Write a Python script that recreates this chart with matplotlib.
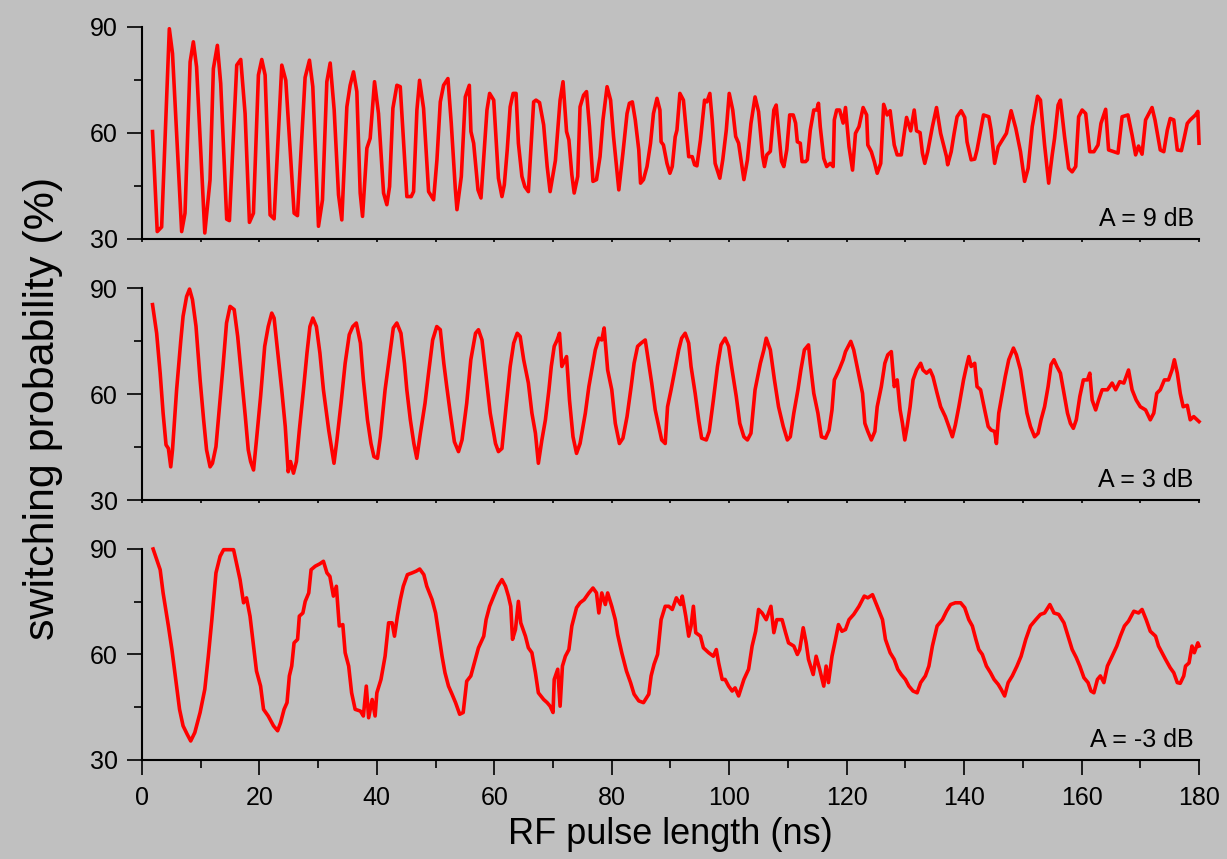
import matplotlib.pyplot as plt
from matplotlib.ticker import MultipleLocator

plt.rcParams['font.family'] = ['Liberation Sans', 'DejaVu Sans']

# pulse length (ns) and switching probability (%) for each attenuation
t_9db = [1.8, 2.6, 3.35, 4.66, 5.2, 6.76, 7.33, 8.2, 8.75, 9.3, 10.7, 11.59, 12.16, 12.84, 13.41,
         14.43, 14.89, 16.14, 16.82, 17.56, 18.3, 18.98, 19.83, 20.4, 20.97, 21.82, 22.5, 23.81,
         24.49, 25.91, 26.48, 27.78, 28.52, 29.09, 30.06, 30.74, 31.48, 32.05, 32.73, 33.47, 34.03,
         34.89, 35.45, 36.02, 36.59, 37.16, 37.56, 38.3, 38.86, 39.6, 40.28, 41.14, 41.7, 42.16,
         42.73, 43.41, 43.98, 45.11, 45.85, 46.25, 46.82, 47.27, 47.95, 48.81, 49.66, 50.23, 50.8,
         51.36, 52.1, 52.67, 53.35, 53.64, 54.38, 55.06, 55.74, 56.02, 56.48, 57.22, 57.73,
         58.75, 59.2, 59.9, 60.7, 61.3, 61.7, 62.2, 62.7, 63.2, 63.7, 64.1, 64.7, 65.2, 65.8, 66.7,
         67.1, 67.7, 68.4, 69.0, 69.5, 70.4, 71.2, 71.7, 72.3, 72.7, 73.2, 73.6, 74.2, 74.6, 75.2,
         75.7, 76.2, 76.8, 77.4, 78.0, 78.5, 79.2, 79.8, 80.3, 81.2, 81.9, 82.6, 83.0, 83.5, 84.0,
         84.6, 84.9, 85.4, 86.0, 86.6, 87.1, 87.7, 88.2, 88.4, 88.8, 89.4, 89.9, 90.3, 90.8, 91.1,
         91.6, 92.2, 93.1, 93.7, 94.1, 94.5, 95.1, 95.8, 96.2, 96.7, 97.1, 97.6, 98.4, 98.9, 99.5,
         100.0, 100.6, 101.1, 101.6, 102.5, 103.1, 103.7, 104.4, 105.0, 105.7, 106.0, 106.4, 107.0,
         107.6, 108.0, 108.4, 108.9, 109.3, 109.8, 110.3, 110.9, 111.3, 111.6, 112.1, 112.4, 113.0,
         113.3, 113.8, 114.4, 114.9, 115.2, 115.5, 116.1, 116.6, 117.2, 117.7, 117.9, 118.3, 118.8,
         119.4, 119.8, 120.4, 121.0, 121.5, 122.1, 122.8, 123.4, 123.6, 124.2, 124.7, 125.2, 125.8,
         126.3, 126.9, 127.4, 128.1, 128.6, 129.3, 129.8, 130.2, 130.9, 131.5, 131.9, 132.5, 132.9,
         133.3, 133.8, 134.6, 135.3, 136.0, 137.0, 137.2, 137.8, 138.3, 138.8, 139.5, 140.1, 140.5,
         141.2, 141.8, 142.2, 143.3, 144.2, 144.6, 145.2, 145.8, 146.5, 147.2, 148.0, 148.8, 149.6,
         150.3, 150.9, 151.6, 152.5, 153.0, 153.7, 154.4, 155.0, 155.4, 156.0, 156.4, 157.1, 157.8,
         158.4, 159.0, 159.5, 160.1, 160.7, 161.4, 162.1, 162.8, 163.3, 164.1, 164.6, 165.5, 166.2,
         166.9, 167.9, 168.6, 169.2, 169.7, 170.3, 170.9, 172.0, 172.5, 173.4, 174.0, 174.6, 175.1,
         175.7, 176.3, 177.0, 177.4, 178.0, 178.5, 179.4, 179.8, 180.0]
p_9db = [60.4, 32.1, 33.4, 89.5, 82.5, 32.1, 37.3, 80.1, 85.8, 78.7, 31.7, 46.7, 78.2, 84.8, 74.0,
         35.6, 35.2, 79.2, 80.8, 65.5, 34.7, 37.3, 76.4, 80.8, 76.4, 36.8, 35.7, 79.2,
         74.9, 37.3, 36.6, 75.7, 80.6, 73.1, 33.6, 41.1, 74.5, 79.8, 66.5, 42.5, 35.4,
         67.4, 73.5, 77.3, 71.7, 43.0, 36.4, 55.7, 58.5, 74.5, 65.5, 43.0, 39.7, 44.8,
         67.0, 73.5, 73.1, 42.0, 42.0, 43.4, 66.5, 74.9, 67.0, 43.4, 41.1, 52.4, 68.8,
         73.5, 75.4, 62.7, 44.4, 38.3, 47.7, 70.2, 73.5, 60.4, 57.1, 43.9, 41.6,
         66.5, 71.2, 69.3, 47.2, 42.0, 45.3, 55.2, 67.4, 71.2, 71.2, 57.1, 47.7, 44.8, 43.4, 68.8,
         69.3, 68.6, 62.3, 50.5, 43.4, 52.2, 69.3, 74.5, 60.4, 58.0, 48.2, 43.0, 47.7, 67.4, 70.7,
         71.7, 61.8, 46.3, 46.8, 53.3, 63.7, 73.1, 69.3, 59.0, 43.9, 54.3, 65.5, 68.4, 68.8, 63.7,
         55.2, 45.8, 46.8, 50.5, 57.1, 65.5, 69.8, 66.5, 57.5, 56.6, 51.4, 48.6, 50.5, 58.9, 60.8,
         71.2, 69.3, 53.3, 53.3, 51.0, 50.7, 58.0, 69.3, 68.8, 71.2, 63.7, 51.4, 47.2, 52.4, 60.8,
         71.2, 66.5, 59.0, 57.1, 46.8, 52.4, 62.7, 70.2, 66.0, 53.3, 50.5, 53.8, 54.8,
         66.5, 67.9, 60.8, 52.0, 50.5, 55.2, 65.1, 65.1, 62.8, 57.5, 57.1, 51.9, 51.9,
         52.4, 60.8, 66.5, 66.5, 68.4, 61.8, 52.8, 50.5, 51.4, 50.5, 63.7, 66.5, 66.5,
         62.8, 67.2, 56.1, 49.5, 59.9, 61.8, 67.2, 65.1, 56.6, 54.7, 51.9, 48.6, 51.4,
         68.1, 65.1, 66.3, 56.6, 53.8, 53.8, 59.9, 64.4, 60.6, 66.5, 60.6, 60.1, 54.3,
         51.4, 54.7, 61.8, 67.2, 59.9, 53.3, 51.0, 54.7, 59.9, 64.6, 66.3, 64.4, 57.5,
         52.4, 52.6, 55.2, 65.1, 64.6, 60.8, 51.4, 56.1, 58.0, 59.9, 66.3, 61.3, 54.7,
         46.3, 50.0, 61.8, 70.4, 69.3, 56.6, 45.8, 53.8, 58.5, 67.9, 69.3, 59.0, 50.0,
         49.0, 50.5, 64.6, 66.5, 65.5, 54.7, 54.7, 56.6, 62.7, 66.7, 55.2, 54.7, 54.3,
         64.6, 65.1, 59.4, 53.8, 56.3, 54.0, 63.7, 67.2, 63.7, 55.2, 54.7, 60.8, 64.1,
         63.7, 55.2, 55.0, 58.0, 62.7, 63.7, 65.1, 66.1, 57.1]

t_3db = [1.8, 2.5, 3.1, 3.6, 4.1, 4.5, 4.9, 5.2, 5.9, 6.6, 7.0, 7.6, 8.1, 8.6, 9.2, 9.9, 10.5, 11.0,
         11.6, 12.0, 12.6, 13.2, 13.8, 14.4, 15.0, 15.7, 16.3, 17.0, 17.6, 18.1, 18.5, 19.0, 19.5,
         20.2, 20.9, 21.5, 22.1, 22.5, 22.9, 23.8, 24.4, 24.9, 25.3, 25.8, 26.3, 26.8, 27.5, 28.1,
         28.6, 29.1, 29.7, 30.3, 30.9, 31.8, 32.3, 32.7, 33.2, 33.9, 34.6, 35.3, 35.9, 36.5, 37.2,
         37.7, 38.4, 39.0, 39.5, 40.1, 40.6, 41.4, 42.0, 42.8, 43.4, 44.1, 44.7, 45.1, 45.7, 46.3,
         46.8, 47.4, 48.2, 48.8, 49.5, 50.2, 50.8, 51.4, 51.9, 52.5, 53.2, 53.9, 54.5, 55.3, 56.0,
         56.8, 57.3, 57.9, 58.6, 59.3,
         59.6, 60.2, 60.7, 61.3, 62.0, 62.7, 63.3, 63.9, 64.4, 65.0, 65.8, 66.4, 67.0, 67.5, 68.1,
         68.7, 69.3, 69.7, 70.2, 70.7, 71.1, 71.5, 72.3, 72.8, 73.4, 74.0, 74.6, 75.5, 76.1, 76.6,
         77.2, 77.8, 78.3, 78.7, 79.3, 80.0, 80.6, 81.3, 81.9, 82.6, 83.3, 83.8, 84.4, 85.0, 85.7,
         86.3, 86.8, 87.4, 88.0, 88.5, 89.1, 89.5, 90.1, 90.8, 91.4, 91.9, 92.5, 93.1, 93.5, 94.2,
         94.8, 95.3, 96.1, 96.6, 97.3, 98.0, 98.6, 99.3, 99.9, 100.4, 101.2, 101.8, 102.5, 103.1,
         103.7, 104.4, 105.3, 105.9, 106.3, 107.0, 107.7, 108.4, 109.2, 109.9, 110.4, 111.0, 111.7,
         112.2, 112.8, 113.5, 113.8, 114.4, 115.1, 115.7, 116.4, 117.0, 117.5, 117.9, 118.7, 119.4,
         119.8, 120.7, 121.2, 121.9, 122.7, 123.1, 123.6, 124.2, 124.8, 125.2, 125.9, 126.5, 127.0,
         127.6, 128.1, 128.6, 129.1, 129.5, 129.9, 130.3, 130.8, 131.3, 131.9, 132.6, 133.0, 133.6,
         134.2, 134.7, 135.4, 136.0, 136.8, 137.4, 138.0, 138.5, 139.1, 139.9, 140.4, 140.8, 141.2,
         141.8, 142.2, 142.8, 143.5, 144.1, 144.6, 145.2, 145.5, 145.9, 146.5, 147.0, 147.6, 148.4,
         148.9, 149.6, 150.2, 150.7, 151.3, 152.0, 152.6, 153.1, 153.7, 154.3, 154.8, 155.3, 155.8,
         156.4, 157.0, 157.6, 158.1, 158.6, 159.1, 159.7, 160.3, 161.0, 161.4, 161.8, 162.4, 162.9,
         163.5, 164.4, 165.2, 165.8, 166.5, 167.2, 168.0, 168.6, 169.3, 170.0, 170.9, 171.7, 172.3,
         172.8, 173.4, 174.1, 174.8, 175.4, 175.8, 176.3, 176.8, 177.3, 178.0, 178.5, 179.1, 180.0]
p_3db = [85.3, 77.2, 65.9, 54.6, 45.6, 44.6, 39.4, 44.2, 61.2, 74.9, 82.0, 87.6, 89.7, 86.7, 79.2,
         64.0, 52.7, 44.2, 39.4, 40.4, 45.1, 56.4, 67.8, 80.1, 84.8, 83.9, 76.3, 64.0, 53.6, 44.2,
         40.9, 38.5, 47.0, 59.3, 73.5, 79.1, 82.9, 81.5, 75.3, 61.2, 50.8, 38.0, 40.9, 37.6, 40.9,
         49.8, 61.2, 71.6, 79.1, 81.5, 79.1, 71.6, 61.2, 49.8, 44.6, 40.4, 47.0, 57.4, 68.7, 76.8,
         79.1, 80.1, 74.4, 64.0, 52.7, 46.0, 42.3, 41.8, 47.9, 61.2, 68.7, 78.7, 80.1, 77.2, 68.7,
         61.2, 52.7, 46.0, 41.8, 48.8, 57.4, 65.9, 75.3, 79.1, 78.2, 68.7, 62.1, 54.6, 46.5, 43.7,
         47.0, 57.4, 69.7, 77.2, 78.2, 75.3, 64.9, 54.6,
         51.7, 46.0, 43.7, 44.6, 56.4, 67.8, 74.4, 77.2, 76.3, 69.7, 63.1, 54.6, 48.9, 40.4, 47.0,
         52.7, 61.2, 67.8, 73.5, 75.3, 77.2, 67.8, 70.6, 58.3, 47.9, 43.2, 46.0, 54.6, 62.1, 66.8,
         72.5, 75.8, 75.3, 78.7, 66.8, 61.2, 51.7, 46.0, 47.5, 53.6, 62.1, 68.7, 73.5, 74.4, 75.3,
         68.7, 63.1, 55.5, 50.8, 47.0, 46.0, 56.4, 61.2, 67.3, 72.5, 75.8, 77.2, 74.4, 67.8, 60.2,
         52.7, 47.5, 47.0, 49.4, 58.3, 67.8, 73.9, 75.8, 73.5, 67.8, 59.3, 51.7, 47.9, 47.0,
         48.9, 61.2, 68.7, 72.5, 75.8, 72.5, 64.0, 56.4, 50.8, 47.0, 47.9, 54.6, 61.2,
         66.8, 72.5, 73.9, 68.7, 60.2, 54.6, 47.9, 47.5, 49.8, 55.5, 64.0, 66.8, 69.7,
         72.0, 74.9, 72.5, 66.8, 60.2, 51.7, 49.4, 47.0, 49.4, 56.4, 62.1, 68.7, 71.1,
         72.0, 62.1, 64.0, 55.5, 51.7, 47.0, 50.8, 56.4, 64.0, 66.8, 68.7, 66.8, 65.9,
         66.8, 64.9, 60.2, 56.4, 53.6, 50.8, 47.9, 51.2, 56.4, 64.0, 67.8, 70.6, 67.8,
         68.7, 62.1, 61.2, 55.5, 50.8, 49.8, 49.4, 46.0, 54.6, 60.2, 64.9, 69.7, 73.0,
         71.1, 66.8, 60.2, 54.6, 50.8, 47.9, 48.9, 52.7, 56.4, 62.1, 68.3, 69.7, 67.8,
         65.9, 60.2, 54.6, 51.7, 50.3, 52.7, 59.3, 64.0, 64.0, 65.9, 58.3, 55.5, 58.3,
         61.2, 61.2, 63.1, 61.2, 63.5, 63.1, 66.8, 61.2, 58.3, 56.4, 55.5, 52.7, 54.6,
         60.2, 61.2, 64.0, 64.0, 66.8, 69.7, 65.9, 60.2, 56.4, 56.8, 52.7, 53.6, 52.2]

t_m3db = [1.9, 3.1, 3.6, 4.5, 5.1, 5.6, 6.4, 7.0, 7.7, 8.3, 9.0, 9.9, 10.7, 11.3, 11.9, 12.6, 13.3,
          13.9, 14.7, 15.6, 16.1, 16.7, 17.3, 17.8, 18.4, 19.0, 19.5, 20.2, 20.7, 21.5, 22.4, 23.1,
          23.6, 24.2, 24.7, 25.1, 25.5, 25.9, 26.5, 26.8, 27.4, 27.8, 28.4, 28.8, 29.5, 30.3, 30.9,
          31.5, 32.0, 32.6, 33.1, 33.6, 34.2, 34.6, 35.2, 35.7, 36.3, 37.2, 37.7, 38.2, 38.6, 39.2,
          39.7, 40.0, 40.7, 41.4, 42.0, 42.6, 43.0, 43.5, 44.0, 44.5, 45.2, 46.0, 46.7, 47.3, 48.0,
          48.5, 49.4, 50.0, 50.5, 51.1, 51.6, 52.2, 52.8, 53.4, 54.1, 54.7, 55.3, 56.0, 56.6, 57.3,
          58.2, 58.6, 59.2,
          59.9, 60.6, 61.3, 61.9, 62.4, 62.8, 63.1, 63.6, 64.1, 64.5, 65.3, 65.8, 66.4, 67.0, 67.5,
          68.4, 69.0, 69.5, 70.0, 70.2, 70.8, 71.2, 71.6, 72.1, 72.7, 73.2, 74.0, 74.6, 75.3, 76.1,
          76.8, 77.4, 77.8, 78.3, 78.9, 79.3, 80.0, 80.6, 81.0, 81.7, 82.5, 83.2, 83.8, 84.6, 85.4,
          86.3, 86.7, 87.2, 87.8, 88.4, 89.1, 89.7, 90.3, 91.0, 91.7, 92.0, 92.6, 93.1, 93.5, 93.9,
          94.3, 95.1, 95.6, 96.5, 97.3, 97.8, 98.2, 98.8, 99.3, 99.9, 100.5, 101.0, 101.6, 102.5,
          103.3, 103.9, 104.5, 105.0, 105.6, 106.3, 107.1, 107.6, 108.1, 109.0, 109.6, 110.1, 111.0,
          111.6, 112.0, 112.6, 113.1, 113.5, 114.3, 114.8, 115.4, 116.1, 116.5, 116.9, 117.5, 118.1,
          118.6, 119.2, 119.8,
          120.4, 121.2, 122.1, 123.0, 123.6, 124.4, 125.2, 126.1, 126.6, 127.4, 128.1, 128.7, 129.3,
          130.0, 130.6, 131.3, 132.0, 132.6, 133.4, 134.0, 134.6, 135.4, 136.3, 137.0, 137.7, 138.5,
          139.4, 140.1, 140.8, 141.4, 142.0, 142.5, 143.1, 143.8, 144.5, 145.1, 145.8, 146.3, 146.9,
          147.5, 148.2, 149.0, 149.7, 150.5, 151.3, 152.2, 153.0, 153.7, 154.6, 155.3, 156.1, 157.0,
          157.7, 158.4, 159.1, 159.7, 160.4, 161.1, 161.6, 162.1, 162.7, 163.2, 163.8, 164.4, 165.2,
          166.0, 166.6, 167.3, 168.0, 168.9, 169.7, 170.3, 171.0, 171.7, 172.6, 173.1, 173.7, 174.3,
          175.1, 175.7, 176.3, 176.8, 177.4, 177.7, 178.3, 178.8, 179.2, 179.8, 180.0]
p_m3db = [90.0, 84.1, 77.5, 68.1, 61.4, 54.8, 44.4, 39.7, 37.3, 35.4, 37.8, 43.5, 50.1, 59.5, 69.9,
          83.2, 87.9, 89.8, 89.8, 89.8, 86.0, 81.3, 74.7, 76.1, 70.9, 62.4, 55.3, 51.0, 44.4, 42.5,
          39.7, 38.3, 40.6, 44.4, 46.3, 53.9, 56.7, 63.3, 64.3, 70.9, 71.8, 75.1, 77.5, 84.1, 85.1,
          85.8, 86.5, 83.2, 82.2, 76.6, 79.4, 68.1, 68.5, 60.5, 56.7, 49.1, 44.4, 43.9, 42.5, 51.0,
          42.0, 47.2, 42.5, 49.1, 52.9, 59.5, 69.0, 69.0, 65.2, 70.9, 75.6, 79.4, 82.7, 83.2, 83.7,
          84.3, 82.7, 79.4, 75.6, 71.8, 66.2, 59.5, 54.8, 51.0, 48.7, 46.3, 43.0, 43.5, 52.4, 53.9,
          57.6, 61.9, 65.2, 69.9, 73.7,
          76.6, 79.4, 81.3, 79.4, 76.6, 73.7, 64.3, 67.1, 75.1, 69.0, 65.2, 61.9, 60.5, 54.8, 49.1,
          47.2, 46.3, 45.3, 43.5, 52.9, 55.8, 45.3, 56.7, 59.5, 61.4, 68.1, 73.3, 74.7, 75.6, 77.5,
          78.9, 77.5, 71.8, 77.5, 74.2, 77.5, 73.7, 69.9, 65.7, 60.5, 55.3, 52.0, 48.7, 46.8, 46.3,
          48.7, 53.9, 57.2, 60.0, 69.9, 73.7, 73.7, 72.8, 76.1, 74.2, 76.6, 70.9, 65.2, 68.1, 73.7,
          66.2, 65.2, 61.9, 60.5, 59.5, 61.4, 57.6, 52.9, 52.9, 51.0, 49.6, 50.5, 48.2, 52.9,
          55.8, 62.4, 66.6, 72.8, 71.8, 69.9, 73.7, 66.2, 69.9, 69.9, 66.2, 63.3, 62.4,
          60.0, 61.4, 67.6, 63.3, 58.6, 54.3, 59.5, 55.8, 51.0, 56.7, 52.0, 59.5, 64.3,
          68.5, 66.6, 67.1,
          69.9, 71.4, 73.7, 76.6, 76.1, 77.0, 73.7, 69.9, 64.3, 60.5, 58.6, 55.8, 54.3,
          52.9, 51.0, 49.6, 49.1, 52.0, 53.9, 56.7, 62.4, 68.1, 69.9, 72.3, 74.2, 74.7,
          74.7, 73.3, 69.9, 68.1, 64.3, 61.4, 60.0, 56.7, 54.8, 52.9, 51.5, 50.1, 48.2,
          52.0, 53.9, 56.7, 59.5, 64.3, 68.1, 69.9, 71.4, 71.8, 74.2, 71.8, 71.4, 69.0,
          65.2, 61.4, 59.1, 56.7, 53.4, 52.0, 49.6, 49.1, 52.9, 53.9, 52.0, 56.7, 59.5,
          62.4, 65.2, 68.1, 69.5, 72.3, 71.8, 72.8, 69.9, 66.6, 65.2, 62.4, 60.5, 58.6,
          56.2, 54.8, 52.0, 51.8, 53.9, 56.7, 57.6, 62.4, 60.5, 63.3, 62.4]

series = [(t_9db, p_9db), (t_3db, p_3db), (t_m3db, p_m3db)]
labels = ['A = 9 dB', 'A = 3 dB', 'A = -3 dB']

bg = '#c0c0c0'
fig = plt.figure(figsize=(12.27, 8.59), dpi=100, facecolor=bg)

# three stacked panels sharing the time axis
rows = [0.7218, 0.4179, 0.1153]
heights = [0.2468, 0.2468, 0.2456]

for i, (t, p) in enumerate(series):
    ax = fig.add_axes([0.1157, rows[i], 0.8615, heights[i]], facecolor=bg)
    ax.plot(t, p, color='#ff0000', lw=2.6, clip_on=False)
    ax.set_xlim(0, 180)
    ax.set_ylim(30, 90)
    ax.spines['top'].set_visible(False)
    ax.spines['right'].set_visible(False)
    ax.spines['left'].set_linewidth(1.5)
    ax.spines['bottom'].set_linewidth(1.5)
    ax.yaxis.set_major_locator(MultipleLocator(30))
    ax.yaxis.set_minor_locator(MultipleLocator(15))
    ax.xaxis.set_major_locator(MultipleLocator(20))
    ax.xaxis.set_minor_locator(MultipleLocator(10))
    ax.tick_params(axis='y', which='major', length=10.5, width=1.2, pad=7, labelsize=18)
    ax.tick_params(axis='y', which='minor', length=5.5, width=1.2)
    if i < 2:
        ax.tick_params(axis='x', which='both', length=2, width=1.2, labelbottom=False)
    else:
        ax.tick_params(axis='x', which='major', length=10.5, width=1.2, pad=8, labelsize=18)
        ax.tick_params(axis='x', which='minor', length=5.5, width=1.2)
        ax.set_xlabel('RF pulse length (ns)', fontsize=26, labelpad=5)
    ax.text(0.995, 0.06, labels[i], transform=ax.transAxes, ha='right', va='baseline',
            fontsize=18)

fig.text(0.035, 0.524, 'switching probability (%)', rotation=90, ha='center', va='center',
         fontsize=31)

fig.savefig('out.png', dpi=100, facecolor=bg)
